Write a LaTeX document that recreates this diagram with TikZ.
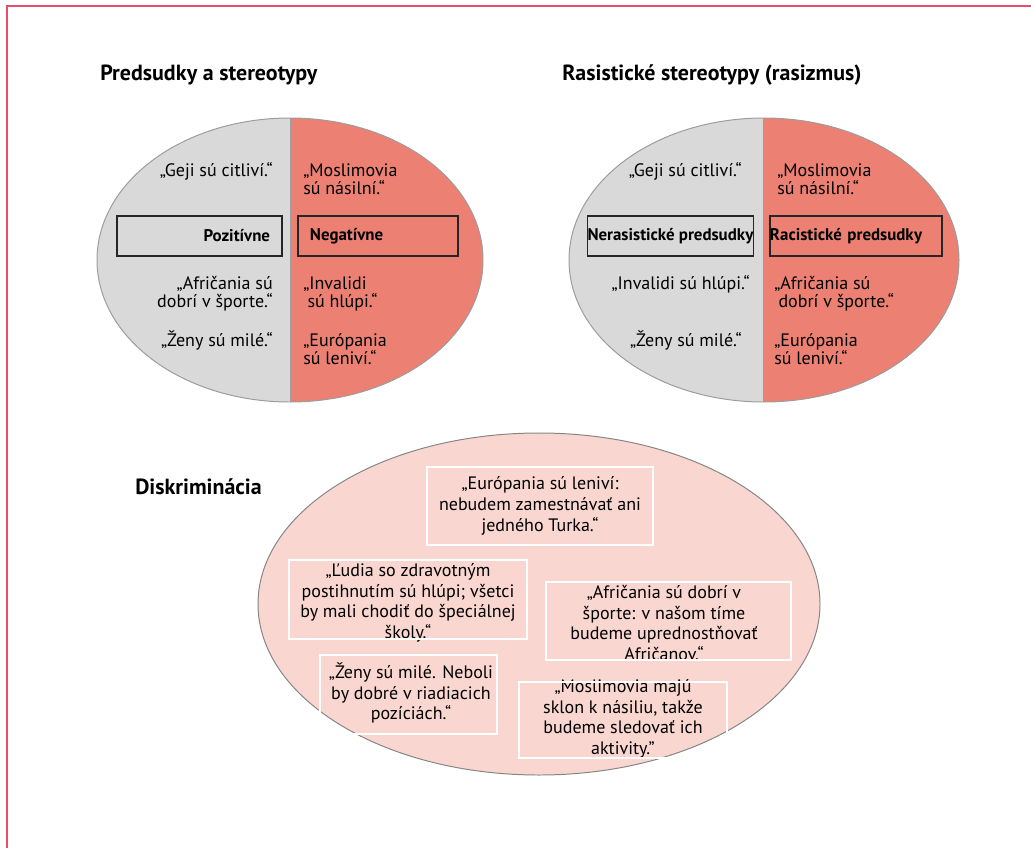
\documentclass[tikz,border=0pt]{standalone}
\usepackage{fontspec}
\setmainfont{PT Sans}
\definecolor{framered}{HTML}{E84D6A}
\definecolor{lightgrey}{HTML}{D9D9D9}
\definecolor{salmon}{HTML}{EC8173}
\definecolor{palepink}{HTML}{F9D7D0}
\definecolor{rimgrey}{HTML}{9C9C9C}

\begin{document}
\begin{tikzpicture}[x=0.025cm, y=-0.025cm,
  rim/.style={draw=rimgrey, line width=0.7pt},
  heading/.style={font=\fontsize{15.6}{17}\selectfont\bfseries, inner sep=0pt},
  quote/.style={font=\fontsize{12.8}{12.6}\selectfont, inner sep=0pt},
  longquote/.style={font=\fontsize{12.8}{14.7}\selectfont, inner sep=0pt, align=center},
  catbox/.style={draw=black!85, line width=0.8pt, minimum height=1cm, font=\fontsize{12}{13}\selectfont\bfseries},
  quotebox/.style={draw=white, line width=1pt}]
\useasboundingbox (0,0) rectangle (1031,848);

% Frame
\draw[framered, line width=1.4pt] (1031,6) -- (7,6) -- (7,848);

% Headings
\node[heading, anchor=base west] (title1) at (100,80) {Predsudky a stereotypy};
\node[heading, anchor=base west] (title2) at (562,80) {Rasistické stereotypy (rasizmus)};
\node[heading, anchor=base west] (title3) at (135,494) {Diskriminácia};

% Left oval
\fill[lightgrey] (290,260) ellipse[x radius=193, y radius=142];
\begin{scope}
  \clip (290,100) rectangle (500,420);
  \fill[salmon] (290,260) ellipse[x radius=193, y radius=142];
\end{scope}
\draw[rim] (290,260) ellipse[x radius=193, y radius=142];
\draw[rim] (290,118) -- (290,402);

\node[catbox, minimum width=4.125cm, text width=3.525cm, inner xsep=0.3cm, align=right] (pos) at (199.5,236) {Pozitívne};
\node[catbox, minimum width=4cm, text width=3.4cm, inner xsep=0.3cm, align=left] (neg) at (378,236) {Negatívne};

% (multi-line nodes: base = last line)
\node[quote, anchor=base east] (l1) at (273,176) {„Geji sú citliví.“};
\node[quote, anchor=base east, align=right] (l2) at (273,307) {„Afričania sú\\dobrí v športe.“};
\node[quote, anchor=base east] (l3) at (273,346) {„Ženy sú milé.“};
\node[quote, anchor=base west, align=left] (r1) at (303,194) {„Moslimovia\\sú násilní.“};
\node[quote, anchor=base west, align=left] (r2) at (303,307) {„Invalidi\\\hspace{3pt}sú hlúpi.“};
\node[quote, anchor=base west, align=left] (r3) at (303,364) {„Európania\\sú leniví.“};

% Right oval
\fill[lightgrey] (764,260) ellipse[x radius=195, y radius=142];
\begin{scope}
  \clip (763,100) rectangle (980,420);
  \fill[salmon] (764,260) ellipse[x radius=195, y radius=142];
\end{scope}
\draw[rim] (764,260) ellipse[x radius=195, y radius=142];
\draw[rim] (763,118) -- (763,402);

\node[catbox, minimum width=4.125cm, inner xsep=0pt] (nonrac) at (670.5,236) {Nerasistické predsudky};
\node[catbox, minimum width=4.3cm, text width=4.3cm, inner xsep=0pt, align=left] (rac) at (856,236) {Racistické predsudky};

\node[quote, anchor=base east] (nl1) at (742,176) {„Geji sú citliví.“};
\node[quote, anchor=base east] (nl2) at (750,289) {„Invalidi sú hlúpi.“};
\node[quote, anchor=base east] (nl3) at (742,346) {„Ženy sú milé.“};
\node[quote, anchor=base west, align=left] (nr1) at (777,194) {„Moslimovia\\sú násilní.“};
\node[quote, anchor=base west, align=left] (nr2) at (774,307) {„Afričania sú\\\hspace{3pt}dobrí v športe.“};
\node[quote, anchor=base west, align=left] (nr3) at (774,364) {„Európania\\sú leniví.“};

% Bottom oval
\draw[fill=palepink, draw=rimgrey!85!black, line width=0.7pt] (539,604) ellipse[x radius=281, y radius=171];

\node[longquote] (d1) at (540,506) {„Európania sú leniví:\\nebudem zamestnávať ani\\jedného Turka.“};
\node[longquote] (d2) at (408,603) {„Ľudia so zdravotným\\postihnutím sú hlúpi; všetci\\by mali chodiť do špeciálnej\\školy.“};
\node[longquote] (d3) at (664,623) {„Afričania sú dobrí v\\športe: v našom tíme\\budeme uprednostňovať\\Afričanov.“};
\node[longquote] (d4) at (411,693) {„Ženy sú milé. Neboli\\by dobré v riadiacich\\pozíciách.“};
\node[longquote] (d5) at (623,719) {„Moslimovia majú\\sklon k násiliu, takže\\budeme sledovať ich\\aktivity."};

\node[quotebox, minimum width=5.65cm, minimum height=1.95cm] (d1box) at (540,506) {};
\node[quotebox, minimum width=5.95cm, minimum height=1.975cm] (d2box) at (408,599.5) {};
\node[quotebox, minimum width=6.125cm, minimum height=1.95cm] (d3box) at (668.5,621) {};
\node[quotebox, minimum width=4.425cm, minimum height=1.975cm] (d4box) at (408.5,694.5) {};
\node[quotebox, minimum width=5.2cm, minimum height=1.9cm] (d5box) at (623,720) {};

\end{tikzpicture}
\end{document}
